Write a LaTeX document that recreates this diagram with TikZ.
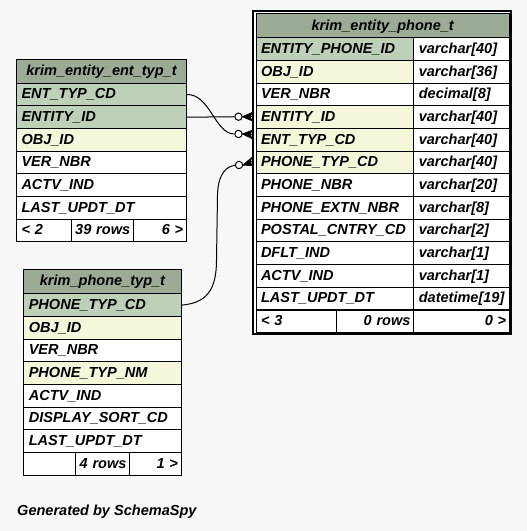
\documentclass[tikz,border=0pt]{standalone}
\usepackage{fontspec}
\setmainfont{Liberation Sans}
\usepackage{tikz}
\usetikzlibrary{positioning}
\definecolor{hdrgreen}{HTML}{9BAB96}
\definecolor{pkgreen}{HTML}{BED1B8}
\definecolor{idxyellow}{HTML}{F4F7DA}
\definecolor{bggray}{HTML}{F7F7F7}

\begin{document}
\begin{tikzpicture}[x=0.75pt,y=-0.75pt,line width=0.75pt,line join=miter,
  font=\fontsize{10.9pt}{13pt}\selectfont\bfseries\itshape,
  cell/.style={draw,anchor=north west,inner ysep=0pt,inner xsep=3.75pt,minimum height=17pt,
    text height=8.5pt,text depth=2.1pt,text width=#1,align=left},
  rcell/.style={cell=#1,align=right,inner xsep=2.5pt},
  hcell/.style={draw,anchor=north west,inner sep=0pt,minimum height=17.7pt,minimum width=#1,
    text height=8.5pt,text depth=2.1pt,fill=hdrgreen},
  ring/.style={circle,draw,fill=white,inner sep=0pt,minimum size=5.5pt}]
\fill[bggray] (0,0) rectangle (527,531);
\useasboundingbox (0,0) rectangle (527,531);

% krim_entity_ent_typ_t
\node[hcell=127.5pt] (enthead) at (16,59.3) {krim\_entity\_ent\_typ\_t};
\foreach \name/\bg [count=\i] in {ENT\_TYP\_CD/pkgreen,ENTITY\_ID/pkgreen,OBJ\_ID/idxyellow,
    VER\_NBR/white,ACTV\_IND/white,LAST\_UPDT\_DT/white}
  \node[cell=120pt,fill=\bg] (ent\i) at (16,{82.7+(\i-1)*22.67}) {\name};
\node[cell=33.75pt,fill=white] (entfoot1) at (16,218.7) {<~2};
\node[rcell=41.5pt,fill=white] (entfoot2) at (71,218.7) {39~rows};
\node[rcell=34.75pt,fill=white] (entfoot3) at (133,218.7) {6~>};

% krim_entity_phone_t
\draw[line width=1.5pt,fill=white] (253,11) rectangle (511,334);
\node[hcell=190.1pt] (ephhead) at (255.5,13.5) {krim\_entity\_phone\_t};
\foreach \name/\type/\bg [count=\i] in {ENTITY\_PHONE\_ID/varchar[40]/pkgreen,
    OBJ\_ID/varchar[36]/idxyellow,VER\_NBR/decimal[8]/white,
    ENTITY\_ID/varchar[40]/idxyellow,ENT\_TYP\_CD/varchar[40]/idxyellow,
    PHONE\_TYP\_CD/varchar[40]/idxyellow,PHONE\_NBR/varchar[20]/white,
    PHONE\_EXTN\_NBR/varchar[8]/white,POSTAL\_CNTRY\_CD/varchar[2]/white,
    DFLT\_IND/varchar[1]/white,ACTV\_IND/varchar[1]/white,
    LAST\_UPDT\_DT/datetime[19]/white}
{
  \node[cell=110.85pt,fill=\bg] (eph\i) at (255.5,{37.3+(\i-1)*22.68}) {\name};
  \node[cell=64.3pt,fill=white] (ephtype\i) at (413.3,{37.3+(\i-1)*22.68}) {\type};
}
\node[cell=52.9pt,fill=white] (ephfoot1) at (255.5,309.5) {<~3};
\node[rcell=53pt,fill=white] (ephfoot2) at (336,309.5) {0~rows};
\node[rcell=66.8pt,fill=white] (ephfoot3) at (413.3,309.5) {0~>};

% krim_phone_typ_t
\node[hcell=118.05pt] (ptyphead) at (23.3,269.3) {krim\_phone\_typ\_t};
\foreach \name/\bg [count=\i] in {PHONE\_TYP\_CD/pkgreen,OBJ\_ID/idxyellow,VER\_NBR/white,
    PHONE\_TYP\_NM/idxyellow,ACTV\_IND/white,DISPLAY\_SORT\_CD/white,LAST\_UPDT\_DT/white}
  \node[cell=110.5pt,fill=\bg] (ptyp\i) at (23.3,{293.3+(\i-1)*22.67}) {\name};
\node[cell=31.5pt,fill=white] (ptypfoot1) at (23.3,452) {};
\node[rcell=35.5pt,fill=white] (ptypfoot2) at (75.3,452) {4~rows};
\node[rcell=33.6pt,fill=white] (ptypfoot3) at (129.3,452) {1~>};

% foreign keys
\node[ring] (ring1) at (238.5,116.7) {};
\node[ring] (ring2) at (238.5,134) {};
\node[ring] (ring3) at (239,165) {};
\coordinate (foot1) at (252,116.7);
\coordinate (foot2) at (252,134.5);
\coordinate (foot3) at (252,161.5);
\draw (ent2.east) -- (ring1);
\draw (ent1.east) .. controls (210,94) and (215,134) .. (ring2);
\draw (ptyp1.east) .. controls (205,303) and (216.5,292) .. (216.5,260)
  -- (217.5,195) .. controls (218,172) and (228,166) .. (ring3);
\foreach \r in {1,2,3}
{
  \filldraw (ring\r.east) -- ([yshift=3pt]foot\r) -- ([xshift=-1.5pt]foot\r)
    -- ([yshift=-3pt]foot\r) -- cycle;
  \draw (ring\r.east) -- (foot\r);
}

\node[anchor=west,inner sep=0pt,text height=8.5pt,text depth=2.1pt] (credit) at (16.7,511.7)
  {Generated by SchemaSpy};
\end{tikzpicture}
\end{document}
